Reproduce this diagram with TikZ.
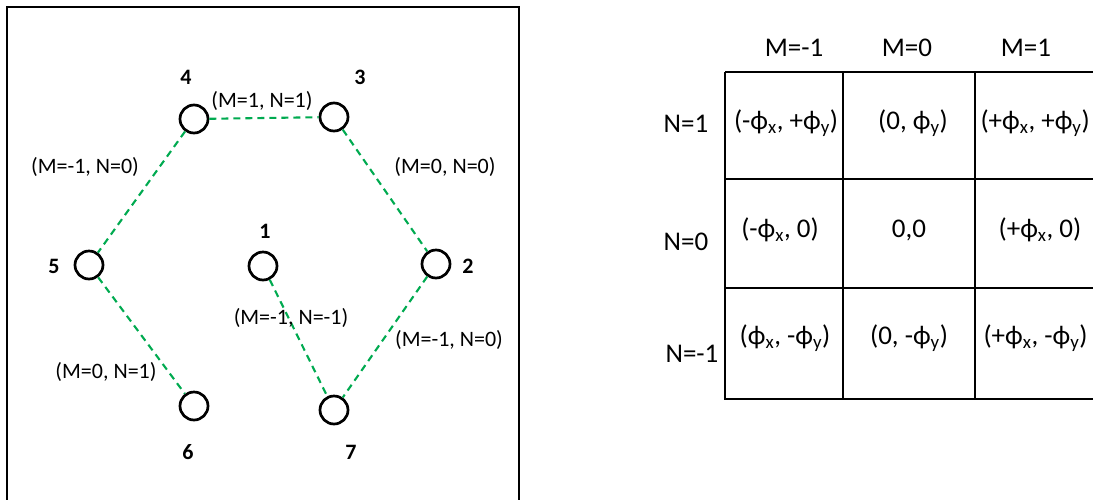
\documentclass[tikz,border=0pt]{standalone}
\usepackage{fontspec}
\setmainfont{Carlito}
\usetikzlibrary{positioning}
\definecolor{bondgreen}{RGB}{0,170,80}
\newcommand{\phx}{ϕ\textsubscript{x}}
\newcommand{\phy}{ϕ\textsubscript{y}}

\begin{document}
\begin{tikzpicture}[x=1pt, y=-1pt,
    site/.style={circle, draw, line width=2.7pt, minimum size=28pt, inner sep=0pt},
    sitenum/.style={font=\fontsize{22}{26}\selectfont\bfseries},
    bond/.style={bondgreen, line width=2.1pt, dash pattern=on 7pt off 5pt},
    bondlabel/.style={font=\fontsize{22}{26}\selectfont},
    cell/.style={font=\fontsize{27}{32}\selectfont}]
    \useasboundingbox (0,0) rectangle (1093,499);
    \clip (0,0) rectangle (1093,499);

    % Lattice panel
    \draw[line width=2.6pt] (7,510) -- (7,7) -- (519,7) -- (519,510);

    \node[site] (s1) at (263,266) {};
    \node[site] (s2) at (436,264) {};
    \node[site] (s3) at (334,117) {};
    \node[site] (s4) at (194,119) {};
    \node[site] (s5) at (89,265) {};
    \node[site] (s6) at (194,406) {};
    \node[site] (s7) at (334,410) {};

    \node[sitenum] (n1) at (265,231) {1};
    \node[sitenum] (n2) at (468,266) {2};
    \node[sitenum] (n3) at (360,77) {3};
    \node[sitenum] (n4) at (186,77) {4};
    \node[sitenum] (n5) at (54,266) {5};
    \node[sitenum] (n6) at (188,452) {6};
    \node[sitenum] (n7) at (351,452) {7};

    % Bonds between sites
    \draw[bond] (s4) -- (s3);
    \draw[bond] (s4) -- (s5);
    \draw[bond] (s3) -- (s2);
    \draw[bond] (s5) -- (s6);
    \draw[bond] (s1) -- (s7);
    \draw[bond] (s2) -- (s7);

    \node[bondlabel] (b43) at (262,101) {(M=1, N=1)};
    \node[bondlabel] (b45) at (85,167) {(M=-1, N=0)};
    \node[bondlabel] (b32) at (445,167) {(M=0, N=0)};
    \node[bondlabel] (b17) at (291,318) {(M=-1, N=-1)};
    \node[bondlabel] (b27) at (449,340) {(M=-1, N=0)};
    \node[bondlabel] (b56) at (106,372) {(M=0, N=1)};

    % Table of shifts
    \begin{scope}[line width=2pt]
        \draw (725,72) -- (1100,72);
        \draw (725,179) -- (1100,179);
        \draw (725,288) -- (1100,288);
        \draw (725,399) -- (1100,399);
        \draw (725,72) -- (725,400);
        \draw (843,72) -- (843,400);
        \draw (975,72) -- (975,400);
    \end{scope}

    \node[cell] (mA) at (794,48) {M=-1};
    \node[cell] (mB) at (907,48) {M=0};
    \node[cell] (mC) at (1026,48) {M=1};
    \node[cell] (nA) at (686,124) {N=1};
    \node[cell] (nB) at (686,242) {N=0};
    \node[cell] (nC) at (692,354) {N=-1};

    \node[cell] (c11) at (786,123) {(-\phx, +\phy)};
    \node[cell] (c12) at (913,123) {(0, \phy)};
    \node[cell, anchor=west] (c13) at (977,123) {(+\phx, +\phy)};
    \node[cell] (c21) at (780,230) {(-\phx, 0)};
    \node[cell] (c22) at (909,230) {0,0};
    \node[cell] (c23) at (1040,230) {(+\phx, 0)};
    \node[cell] (c31) at (785,338) {(\phx, -\phy)};
    \node[cell] (c32) at (909,338) {(0, -\phy)};
    \node[cell, anchor=west] (c33) at (980,338) {(+\phx, -\phy)};
\end{tikzpicture}
\end{document}
